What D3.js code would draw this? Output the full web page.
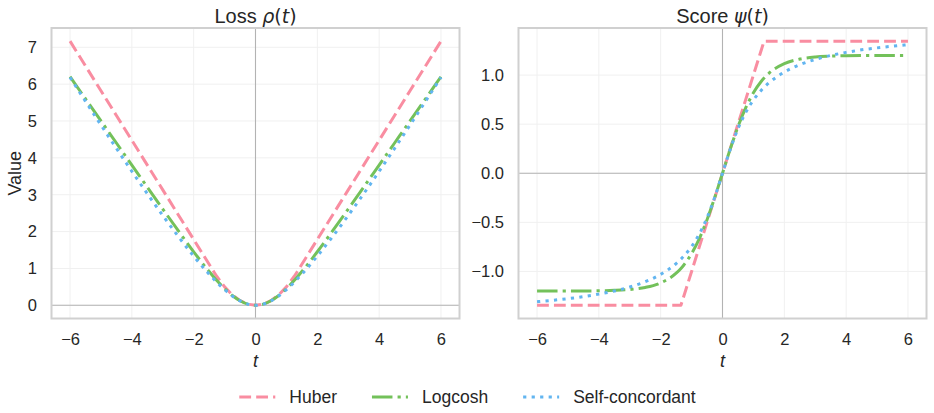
<!DOCTYPE html>
<html>
<head>
<meta charset="utf-8">
<script src="https://cdn.jsdelivr.net/npm/d3@7"></script>
<style>
  html, body { margin: 0; padding: 0; background: #ffffff; }
  svg { display: block; }
  text { font-family: "Liberation Sans", Arial, sans-serif; fill: #262626; }
</style>
</head>
<body>
<svg id="chart" width="934" height="413"></svg>
<script>
// ---------------- data ----------------
const tValues = [-6, -5.5, -5, -4.5, -4, -3.5, -3, -2.5, -2, -1.5, -1.345, -1.25, -1, -0.75, -0.5, -0.25,
  0, 0.25, 0.5, 0.75, 1, 1.25, 1.345, 1.5, 2, 2.5, 3, 3.5, 4, 4.5, 5, 5.5, 6];

const seriesNames = ["Huber", "Logcosh", "Self-concordant"];

const huberLoss = [7.166, 6.493, 5.821, 5.148, 4.476, 3.803, 3.131, 2.458, 1.786, 1.113, 0.905, 0.781, 0.500, 0.281, 0.125, 0.031,
  0, 0.031, 0.125, 0.281, 0.500, 0.781, 0.905, 1.113, 1.786, 2.458, 3.131, 3.803, 4.476, 5.148, 5.821, 6.493, 7.166];
const logcoshLoss = [6.202, 5.602, 5.002, 4.403, 3.804, 3.206, 2.612, 2.024, 1.452, 0.915, 0.761, 0.671, 0.451, 0.265, 0.122, 0.031,
  0, 0.031, 0.122, 0.265, 0.451, 0.671, 0.761, 0.915, 1.452, 2.024, 2.612, 3.206, 3.804, 4.403, 5.002, 5.602, 6.202];
const selfConcLoss = [6.184, 5.534, 4.891, 4.257, 3.635, 3.027, 2.437, 1.870, 1.335, 0.845, 0.706, 0.624, 0.425, 0.254, 0.119, 0.031,
  0, 0.031, 0.119, 0.254, 0.425, 0.624, 0.706, 0.845, 1.335, 1.870, 2.437, 3.027, 3.635, 4.257, 4.891, 5.534, 6.184];

const huberScore = [-1.345, -1.345, -1.345, -1.345, -1.345, -1.345, -1.345, -1.345, -1.345, -1.345, -1.345, -1.25, -1, -0.75, -0.5, -0.25,
  0, 0.25, 0.5, 0.75, 1, 1.25, 1.345, 1.345, 1.345, 1.345, 1.345, 1.345, 1.345, 1.345, 1.345, 1.345, 1.345];
const logcoshScore = [-1.200, -1.200, -1.199, -1.199, -1.197, -1.193, -1.184, -1.163, -1.117, -1.018, -0.969, -0.934, -0.819, -0.666, -0.473, -0.246,
  0, 0.246, 0.473, 0.666, 0.819, 0.934, 0.969, 1.018, 1.117, 1.163, 1.184, 1.193, 1.197, 1.199, 1.199, 1.200, 1.200];
const selfConcScore = [-1.309, -1.294, -1.277, -1.257, -1.231, -1.200, -1.159, -1.105, -1.030, -0.920, -0.875, -0.844, -0.746, -0.619, -0.453, -0.243,
  0, 0.243, 0.453, 0.619, 0.746, 0.844, 0.875, 0.920, 1.030, 1.105, 1.159, 1.200, 1.231, 1.257, 1.277, 1.294, 1.309];

const xTicks = [-6, -4, -2, 0, 2, 4, 6];
const lossTicks = [0, 1, 2, 3, 4, 5, 6, 7];
const scoreTicks = [-1.0, -0.5, 0.0, 0.5, 1.0];

// ---------------- styles ----------------
const colors = ["#f98da1", "#73c15a", "#62b5f0"];
const dashes = ["11.8,5.1", "20.5,5.1,3.2,5.1", "3.2,5.3"];
const curves = [d3.curveLinear, d3.curveMonotoneX, d3.curveMonotoneX];

const svg = d3.select("#chart");
svg.append("rect").attr("width", 934).attr("height", 413).attr("fill", "#ffffff");

const plotTop = 28, plotBottom = 318.5;

const panels = [
  { x0: 51.5, x1: 459.5, yDomain: [-0.358, 7.523], yTicks: lossTicks, yFmt: d3.format("d"),
    series: [huberLoss, logcoshLoss, selfConcLoss], title: ["Loss ", "ρ"], ylabel: "Value" },
  { x0: 518.5, x1: 926.5, yDomain: [-1.4795, 1.4795], yTicks: scoreTicks, yFmt: d3.format(".1f"),
    series: [huberScore, logcoshScore, selfConcScore], title: ["Score ", "ψ"], ylabel: null }
];

const fmtX = d3.format("d");

panels.forEach(p => {
  const x = d3.scaleLinear().domain([-6.6, 6.6]).range([p.x0, p.x1]);
  const y = d3.scaleLinear().domain(p.yDomain).range([plotBottom, plotTop]);
  const g = svg.append("g");

  // grid
  g.selectAll(".vg").data(xTicks).join("line")
    .attr("x1", d => x(d)).attr("x2", d => x(d)).attr("y1", plotTop).attr("y2", plotBottom)
    .attr("stroke", "#f0f0f0").attr("stroke-width", 1);
  g.selectAll(".hg").data(p.yTicks).join("line")
    .attr("x1", p.x0).attr("x2", p.x1).attr("y1", d => y(d)).attr("y2", d => y(d))
    .attr("stroke", "#f0f0f0").attr("stroke-width", 1);

  // zero lines
  g.append("line").attr("x1", x(0)).attr("x2", x(0)).attr("y1", plotTop).attr("y2", plotBottom)
    .attr("stroke", "#b3b3b3").attr("stroke-width", 1.1);
  g.append("line").attr("x1", p.x0).attr("x2", p.x1).attr("y1", y(0)).attr("y2", y(0))
    .attr("stroke", "#b3b3b3").attr("stroke-width", 1.1);

  // series
  p.series.forEach((vals, i) => {
    const line = d3.line().x((d, j) => x(tValues[j])).y(d => y(d)).curve(curves[i]);
    g.append("path").datum(vals)
      .attr("d", line)
      .attr("fill", "none")
      .attr("stroke", colors[i])
      .attr("stroke-width", 3)
      .attr("stroke-dasharray", dashes[i])
      .attr("stroke-linecap", "butt")
      .attr("stroke-linejoin", "round");
  });

  // spines
  g.append("rect").attr("x", p.x0).attr("y", plotTop).attr("width", p.x1 - p.x0).attr("height", plotBottom - plotTop)
    .attr("fill", "none").attr("stroke", "#d0d0d0").attr("stroke-width", 2);

  // axes
  const ax = g.append("g").attr("transform", `translate(0,${plotBottom})`)
    .call(d3.axisBottom(x).tickValues(xTicks).tickFormat(fmtX).tickSize(0).tickPadding(14.5));
  const ay = g.append("g").attr("transform", `translate(${p.x0},0)`)
    .call(d3.axisLeft(y).tickValues(p.yTicks).tickFormat(p.yFmt).tickSize(0).tickPadding(14.5));
  [ax, ay].forEach(a => {
    a.select(".domain").remove();
    a.selectAll("text").attr("font-size", "16.5px").attr("font-family", "Liberation Sans, Arial, sans-serif")
      .attr("fill", "#262626");
  });

  // title
  const cx = (p.x0 + p.x1) / 2;
  const tt = g.append("text").attr("x", cx).attr("y", 23).attr("text-anchor", "middle").attr("font-size", "20px");
  tt.append("tspan").text(p.title[0]);
  tt.append("tspan").attr("font-family", "DejaVu Sans").attr("font-style", "oblique").attr("font-size", "19px").text(p.title[1]);
  tt.append("tspan").attr("font-family", "DejaVu Sans").attr("font-size", "19px").text("(");
  tt.append("tspan").attr("font-family", "DejaVu Sans").attr("font-style", "oblique").attr("font-size", "19px").text("t");
  tt.append("tspan").attr("font-family", "DejaVu Sans").attr("font-size", "19px").text(")");

  // x label
  g.append("text").attr("x", x(0)).attr("y", 367).attr("text-anchor", "middle")
    .attr("font-family", "DejaVu Sans").attr("font-style", "oblique").attr("font-size", "18px").text("t");

  if (p.ylabel) {
    g.append("text").attr("transform", `translate(21,${(plotTop + plotBottom) / 2}) rotate(-90)`)
      .attr("text-anchor", "middle").attr("font-size", "18px").text(p.ylabel);
  }
});

// legend
const legend = svg.append("g");
const handleLen = 36, handleGap = 14, itemGap = 35, legendY = 397;
let cursor = 0;
seriesNames.forEach((name, i) => {
  const item = legend.append("g");
  item.append("line").attr("x1", 0).attr("x2", handleLen).attr("y1", 0).attr("y2", 0)
    .attr("stroke", colors[i]).attr("stroke-width", 3).attr("stroke-dasharray", dashes[i]);
  const txt = item.append("text").attr("x", handleLen + handleGap).attr("y", 6.3)
    .attr("font-size", "17.5px").text(name);
  const w = handleLen + handleGap + txt.node().getComputedTextLength();
  item.attr("transform", `translate(${cursor},${legendY})`);
  cursor += w + itemGap;
});
const totalW = cursor - itemGap;
legend.attr("transform", `translate(${467.5 - totalW / 2},0)`);
</script>
</body>
</html>
